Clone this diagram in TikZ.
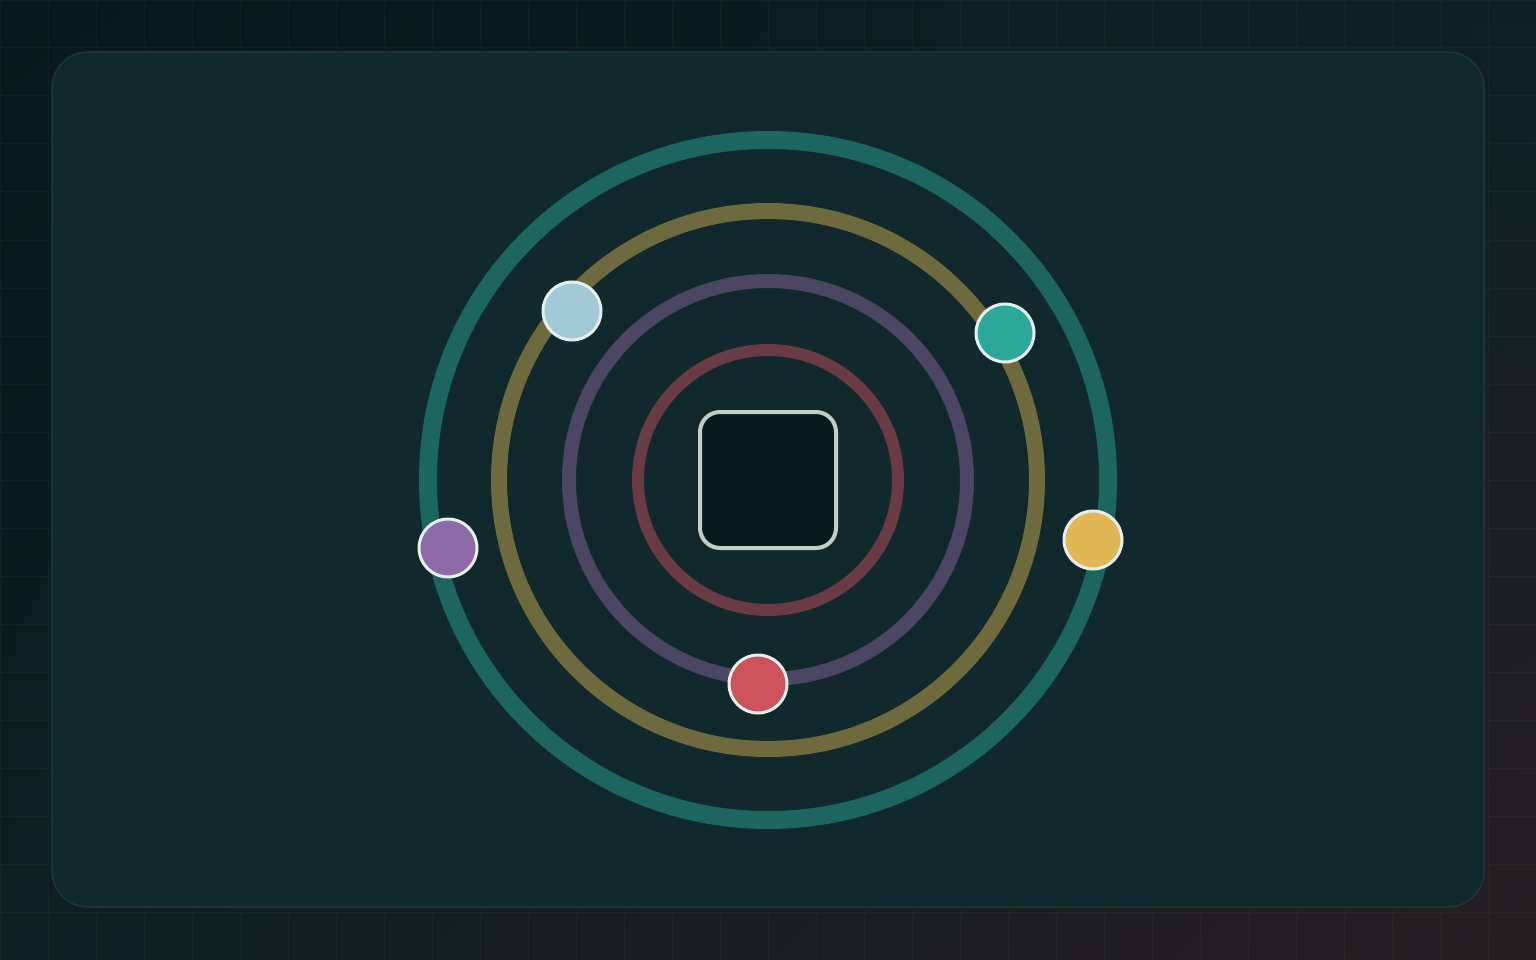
\documentclass[tikz,border=0pt]{standalone}
\usepackage{tikz}
\usetikzlibrary{shadings}

\definecolor{bgTL}{HTML}{08181C}
\definecolor{bgTR}{HTML}{0D2125}
\definecolor{bgBL}{HTML}{0D1E22}
\definecolor{bgBR}{HTML}{281E22}
\definecolor{panel}{HTML}{11292C}
\definecolor{panelline}{HTML}{1F373A}
\definecolor{coreFill}{HTML}{07191D}
\definecolor{coreLine}{HTML}{C2CCC8}
\definecolor{ringA}{HTML}{6A3A45}
\definecolor{ringB}{HTML}{4A4663}
\definecolor{ringC}{HTML}{6E6A3E}
\definecolor{ringD}{HTML}{1D6660}
\definecolor{dotBlue}{HTML}{A1C9D6}
\definecolor{dotTeal}{HTML}{2BA898}
\definecolor{dotPurple}{HTML}{8E6BA8}
\definecolor{dotGold}{HTML}{E2B755}
\definecolor{dotRed}{HTML}{CC525C}
\definecolor{dotLine}{HTML}{E6EEEC}

\tikzset{
  planet/.style={circle, draw=dotLine, line width=3pt, inner sep=0pt, minimum size=58pt},
  orbit/.style={line width=#1}
}

\begin{document}
\begin{tikzpicture}[x=1pt,y=-1pt]
    % Background
    \shade[upper left=bgTL, upper right=bgTR, lower left=bgBL, lower right=bgBR]
        (0,0) rectangle (1536,960);
    \useasboundingbox (0,0) rectangle (1536,960);
    \draw[white, opacity=0.03, line width=1pt, step=48pt] (0,0) grid (1536,960);

    % Panel
    \draw[panelline, fill=panel, line width=1.5pt, rounded corners=36pt]
        (52,52) rectangle (1484,907);

    % Orbits
    \draw[ringD, orbit=18pt] (768,480) circle (340);
    \draw[ringC, orbit=16pt] (768,480) circle (269);
    \draw[ringB, orbit=14pt] (768,480) circle (199);
    \draw[ringA, orbit=12pt] (768,480) circle (130);

    % Core
    \node[draw=coreLine, fill=coreFill, line width=4pt, rounded corners=20pt,
          minimum size=136pt, inner sep=0pt] (core) at (768,480) {};

    % Planets
    \node[planet, fill=dotBlue] (blue) at (572,311) {};
    \node[planet, fill=dotTeal] (teal) at (1005,333) {};
    \node[planet, fill=dotPurple] (purple) at (448,548) {};
    \node[planet, fill=dotGold] (gold) at (1093,540) {};
    \node[planet, fill=dotRed] (red) at (758,684) {};
\end{tikzpicture}
\end{document}
